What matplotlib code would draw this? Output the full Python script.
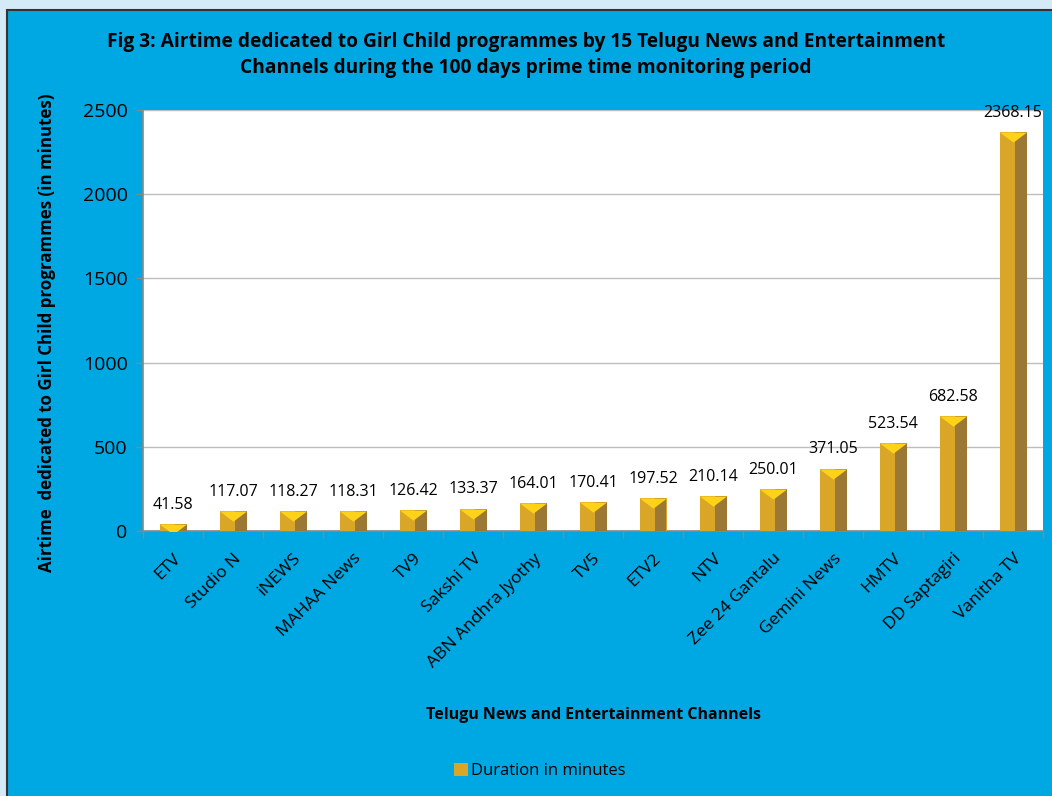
import matplotlib
matplotlib.use('Agg')
import matplotlib.pyplot as plt
from matplotlib.patches import Rectangle, Patch
import numpy as np

channels = ['ETV', 'Studio N', 'iNEWS', 'MAHAA News', 'TV9', 'Sakshi TV',
            'ABN Andhra Jyothy', 'TV5', 'ETV2', 'NTV', 'Zee 24 Gantalu',
            'Gemini News', 'HMTV', 'DD Saptagiri', 'Vanitha TV']
minutes = [41.58, 117.07, 118.27, 118.31, 126.42, 133.37, 164.01, 170.41,
           197.52, 210.14, 250.01, 371.05, 523.54, 682.58, 2368.15]
y_ticks = [0, 500, 1000, 1500, 2000, 2500]

BG = '#00A8E3'
STRIP = '#D5EAF7'
GOLD = '#D9A628'
GOLD_DARK = '#9B7834'
TOP = '#FFD21A'
W = 0.45

plt.rcParams['font.family'] = ['Open Sans', 'DejaVu Sans']

fig = plt.figure(figsize=(10.52, 7.96), dpi=100)
fig.patch.set_facecolor(STRIP)
fig.add_artist(Rectangle((7 / 1052, -0.01), 1.0, 1 - 10 / 796 + 0.01,
                         transform=fig.transFigure, facecolor=BG,
                         edgecolor='#333333', linewidth=1.5, zorder=0))

ax = fig.add_axes([143 / 1052, 1 - 531 / 796, (1043 - 143) / 1052, (531 - 110) / 796])
ax.set_facecolor('white')

x = np.arange(len(channels))
ax.bar(x, minutes, width=W, color=GOLD, zorder=3)
ax.bar(x + W * 0.28, minutes, width=W * 0.44, color=GOLD_DARK, zorder=3)
# bevelled top of each column
tri = [(-1, 0), (1, 0), (0, -0.75), (-1, 0)]
ax.plot(x, minutes, linestyle='none', marker=tri, markersize=19.5,
        markerfacecolor=TOP, markeredgewidth=0, zorder=4, clip_on=True)

for xi, v in zip(x, minutes):
    ax.annotate(f'{v:.2f}', (xi, v), xytext=(0, 8), textcoords='offset points',
                ha='center', va='bottom', fontsize=11.5, color='black',
                annotation_clip=False)

ax.set_ylim(0, 2500)
ax.set_xlim(-0.5, len(channels) - 0.5)
ax.set_yticks(y_ticks)
ax.set_yticklabels([str(t) for t in y_ticks], fontsize=14)
ax.yaxis.grid(True, color='#BDBDBD', linewidth=1, zorder=0)
ax.set_axisbelow(True)

ax.set_xticks(x)
ax.set_xticklabels(channels, rotation=45, ha='right', rotation_mode='anchor',
                   fontsize=12.5)
ax.set_xticks(np.arange(len(channels) + 1) - 0.5, minor=True)
ax.tick_params(axis='x', which='major', length=0, pad=14)
ax.tick_params(axis='x', which='minor', length=5, color='#888888', width=1)
ax.tick_params(axis='y', length=5, color='#888888', width=1, pad=6)

for side in ['top', 'right']:
    ax.spines[side].set_visible(False)
for side in ['left', 'bottom']:
    ax.spines[side].set_color('#888888')
    ax.spines[side].set_linewidth(1.2)

ax.set_ylabel('Airtime  dedicated to Girl Child programmes (in minutes)',
              fontsize=12.2, fontweight='bold')
ax.yaxis.set_label_coords(-0.097, 0.47)
ax.set_xlabel('Telugu News and Entertainment Channels', fontsize=11.5,
              fontweight='bold', labelpad=26)

fig.text(0.5, 1 - 55 / 796,
         'Fig 3: Airtime dedicated to Girl Child programmes by 15 Telugu News and Entertainment\n'
         'Channels during the 100 days prime time monitoring period',
         ha='center', va='center', fontsize=13.8, fontweight='bold', linespacing=1.45)

fig.legend(handles=[Patch(facecolor=GOLD, edgecolor='none', label='Duration in minutes')],
           loc='center', bbox_to_anchor=(540 / 1052, 1 - 771 / 796), frameon=False,
           fontsize=12, handlelength=0.8, handleheight=0.8, handletextpad=0.2)

fig.savefig('out.png', dpi=100, facecolor=fig.get_facecolor())
